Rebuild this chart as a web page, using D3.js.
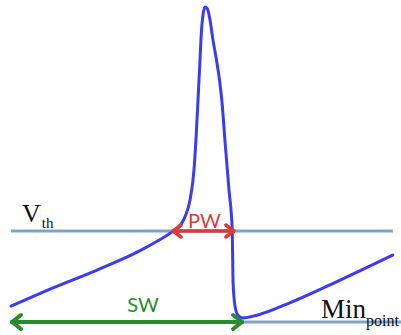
<!DOCTYPE html>
<html>
<head>
<meta charset="utf-8">
<script src="https://cdn.jsdelivr.net/npm/d3@7"></script>
<style>
  html, body { margin: 0; padding: 0; background: #fff; }
  svg { display: block; }
</style>
</head>
<body>
<svg id="chart" width="401" height="335"></svg>
<script>
// ---- data (time in arbitrary ms, membrane voltage in mV) ----
const time    = [0, 10, 22.8, 33.1, 41.3, 43.3, 44.6, 45.9, 46.92, 47.56, 47.95, 48.46, 48.85, 49.23, 49.74, 50.38, 51.03, 51.79, 52.69, 53.46, 54.05, 54.95, 55.9, 56.74, 56.92, 57.4, 58.2, 59.5, 63.1, 71.5, 84.4, 97.9];
const voltage = [-66.5, -62.8, -58.3, -54.3, -50.2, -48.9, -46.9, -43.2, -36.59, -27.8, -21.21, -12.42, -5.82, -2.53, -0.77, -1.21, -3.63, -8.02, -12.42, -16.81, -21.21, -31.1, -40.99, -50.0, -60.8, -66.3, -68.5, -69.1, -68.5, -65.8, -60.8, -55.3];
const thresholdV = -50;
const minV = -70;
const thresholdSpan = [0, 97.9];
const minSpan = [0, 100];
const pwSpan = [41.3, 57.4];   // pulse width at threshold
const swSpan = [0, 59.5];      // spike width to min point
const labels = { vth: "V", vthSub: "th", min: "Min", minSub: "point", pw: "PW", sw: "SW" };

// ---- scales ----
const svg = d3.select("#chart");
const x = d3.scaleLinear().domain([0, 100]).range([11, 401]);
const y = d3.scaleLinear().domain([-70, -50]).range([322, 231]);

const lineBlue = "#7fa3cc";
const traceBlue = "#3b3bf2";
const red = "#d93a3a";
const green = "#2a8a2e";

// reference lines
svg.append("line")
  .attr("x1", x(thresholdSpan[0])).attr("x2", x(thresholdSpan[1]))
  .attr("y1", y(thresholdV)).attr("y2", y(thresholdV))
  .attr("stroke", lineBlue).attr("stroke-width", 3);
svg.append("line")
  .attr("x1", x(minSpan[0])).attr("x2", x(minSpan[1]))
  .attr("y1", y(minV)).attr("y2", y(minV))
  .attr("stroke", lineBlue).attr("stroke-width", 3);

// trace
const pts = time.map((t, i) => [t, voltage[i]]);
svg.append("path")
  .datum(pts)
  .attr("d", d3.line().x(d => x(d[0])).y(d => y(d[1])).curve(d3.curveMonotoneX))
  .attr("fill", "none").attr("stroke", traceBlue).attr("stroke-width", 3)
  .attr("stroke-linejoin", "round").attr("stroke-linecap", "round");

// double-headed arrows
function arrow(span, v, color, w, hl, hh) {
  const x0 = x(span[0]), x1 = x(span[1]), yy = y(v);
  const g = svg.append("g").attr("stroke", color).attr("fill", "none")
    .attr("stroke-width", w).attr("stroke-linecap", "round").attr("stroke-linejoin", "round");
  g.append("line").attr("x1", x0 + 1).attr("x2", x1 - 1).attr("y1", yy).attr("y2", yy);
  g.append("path").attr("d", `M${x0 + hl},${yy - hh}L${x0 + 1},${yy}L${x0 + hl},${yy + hh}`);
  g.append("path").attr("d", `M${x1 - hl},${yy - hh}L${x1 - 1},${yy}L${x1 - hl},${yy + hh}`);
}
arrow(pwSpan, thresholdV, red, 3.5, 9, 6);
arrow(swSpan, minV, green, 4, 10, 7);

// labels
svg.append("text").attr("x", (x(pwSpan[0]) + x(pwSpan[1])) / 2 + 1).attr("y", y(thresholdV) - 3)
  .attr("text-anchor", "middle").attr("fill", red)
  .style("font", "20px Lato, 'Open Sans', sans-serif").text(labels.pw);
svg.append("text").attr("x", 143).attr("y", y(minV) - 10)
  .attr("text-anchor", "middle").attr("fill", green)
  .style("font", "20px Lato, 'Open Sans', sans-serif").text(labels.sw);

const vt = svg.append("text").attr("x", 22).attr("y", 222)
  .style("font", "26px 'Liberation Serif', 'DejaVu Serif', serif").attr("fill", "#111");
vt.append("tspan").text(labels.vth);
vt.append("tspan").attr("dy", 6).attr("dx", 1).style("font-size", "15px").text(labels.vthSub);

const mt = svg.append("text").attr("x", 321).attr("y", 318)
  .style("font", "27px 'Liberation Serif', 'DejaVu Serif', serif").attr("fill", "#111");
mt.append("tspan").text(labels.min);
mt.append("tspan").attr("dy", 8).style("font-size", "16px").text(labels.minSub);
</script>
</body>
</html>
